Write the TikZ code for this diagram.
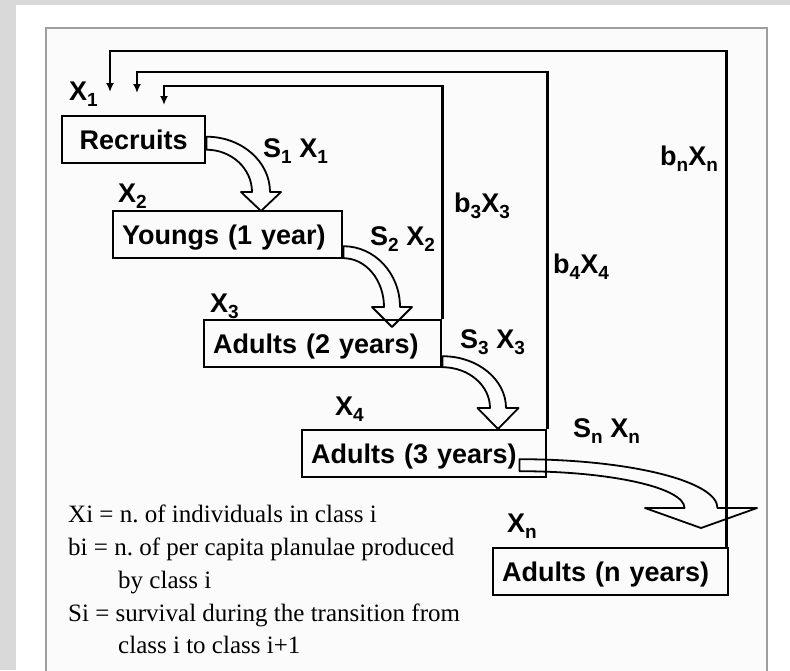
\documentclass[tikz,border=0pt]{standalone}
\usepackage{fontspec}
\setmainfont{Liberation Serif}
\setsansfont{Liberation Sans}
\usetikzlibrary{calc,arrows.meta}

\definecolor{panelgray}{gray}{0.85}
\definecolor{framegray}{gray}{0.62}

% bold sans labels, class index dropped below the line
\newcommand\lab{\sffamily\bfseries\fontsize{27}{31}\selectfont}
\newcommand\cls[1]{\raisebox{-6.5pt}{\fontsize{19}{19}\selectfont #1}}

% hollow survival arrow: tail, tip, half width at tail, half width at head, head half width, head length
\newcommand\survarrow[6]{%
  \draw[survival] let \p1=(#1), \p2=(#2) in
    (\x1,\y1+#3) arc[start angle=90,end angle=0,x radius=\x2-\x1+#4,y radius=\y1+#3-(\y2)-#6]
    -- ++(#5-#4,0) -- (\x2,\y2) -- (\x2-#5,\y2+#6) -- (\x2-#4,\y2+#6)
    arc[start angle=0,end angle=90,x radius=\x2-\x1-#4,y radius=\y1-#3-(\y2)-#6]
    -- cycle;}

\begin{document}
\begin{tikzpicture}[x=1pt,y=1pt,
                    stage/.style={draw,line width=2.4pt,anchor=north west,minimum height=47pt,
                                  inner xsep=9pt,inner ysep=0pt,text height=22.5pt,text depth=3.5pt,
                                  align=left,font=\lab},
                    lbl/.style={anchor=base west,inner sep=0pt,font=\lab},
                    survival/.style={draw,line width=1.8pt,line join=round},
                    feedback/.style={draw,line width=2.2pt,-{Latex[length=9pt,width=8pt]}}
                ]
    \useasboundingbox (0,0) rectangle (790,-670);
    \clip (0,0) rectangle (790,-670);
    \fill[panelgray] (0,0) rectangle (790,-670);
    \fill[white] (16,-5) rectangle (790,-670);
    \draw[framegray,line width=1.5pt,fill=gray!3] (46,-28) rectangle (767,-700);

    % age classes
    \node[stage,text width=125pt,align=center] (recruits) at (61,-115) {Recruits};
    \node[stage,text width=211pt] (youngs) at (112,-210) {Youngs (1 year)};
    \node[stage,text width=219pt] (adults2) at (203,-319) {Adults (2 years)};
    \node[stage,text width=226pt] (adults3) at (301,-429) {Adults (3 years)};
    \node[stage,text width=217pt] (adultsn) at (492,-547) {Adults (n years)};

    % survival from one class to the next
    \coordinate (p1) at (261,-211);
    \coordinate (p2) at (392,-327);
    \coordinate (p3) at (498,-429);
    \coordinate (pn) at (701,-528);
    \survarrow{[yshift=-3.5pt]recruits.east}{p1}{6.5pt}{9pt}{20pt}{19pt}
    \survarrow{[yshift=-17.5pt]youngs.east}{p2}{6pt}{8pt}{20pt}{20pt}
    \survarrow{[yshift=-18pt]adults2.east}{p3}{5.5pt}{8pt}{20.5pt}{21pt}
    \survarrow{[xshift=-28pt,yshift=-11.5pt]adults3.east}{pn}{6pt}{16.5pt}{56pt}{20pt}

    % planulae back to the recruits
    \coordinate (in1) at (110,-92);
    \coordinate (in2) at (137,-93);
    \coordinate (in3) at (164,-105);
    \draw[feedback] ([xshift=-3pt]adultsn.north east) |- ([yshift=41pt]in1) -- (in1);
    \draw[feedback] (adults3.north east) |- ([yshift=21pt]in2) -- (in2);
    \draw[feedback] (adults2.north east) |- ([yshift=19pt]in3) -- (in3);

    \foreach \i/\x/\y in {1/69/100, 2/118/202, 3/210/312, 4/335/415, n/507/532}
        \node[lbl] (x\i) at (\x,-\y) {X\cls{\i}};
    \foreach \i/\x/\y in {1/263/157, 2/370/245, 3/460/348, n/573/437}
        \node[lbl] (s\i) at (\x,-\y) {S\cls{\i} X\cls{\i}};
    \foreach \i/\x/\y in {3/454/212, 4/553/273, n/660/165}
        \node[lbl] (b\i) at (\x,-\y) {b\cls{\i}X\cls{\i}};

    \node[anchor=north west,align=left,inner sep=0pt,
          font=\frenchspacing\fontsize{25}{32.75}\selectfont] (key) at (68,-505)
        {Xi = n. of individuals in class i\\
         bi = n. of per capita planulae produced\\
         \hspace*{50pt}by class i\\
         Si = survival during the transition from\\
         \hspace*{50pt}class i to class i+1};
\end{tikzpicture}
\end{document}
